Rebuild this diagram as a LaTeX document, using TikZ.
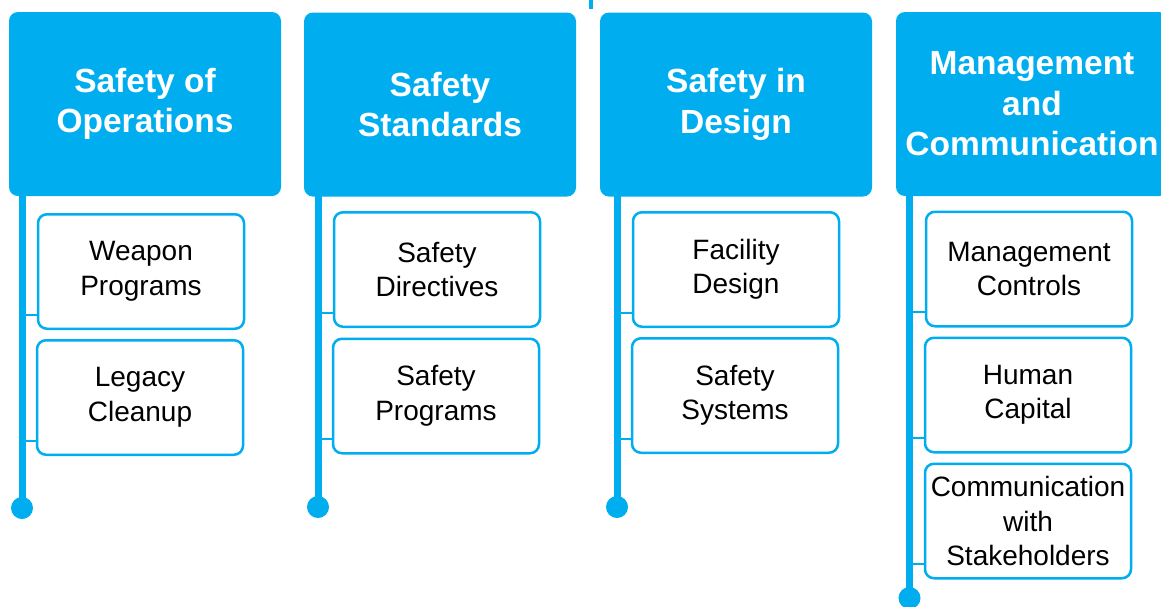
\documentclass[tikz,border=0pt]{standalone}
\usepackage{fontspec}
\setmainfont{Liberation Sans}
\usetikzlibrary{positioning}
\definecolor{hdblue}{RGB}{0,174,239}
\tikzset{
    header/.style={fill=hdblue, rounded corners=9pt, minimum width=272pt, minimum height=184pt,
        inner sep=0pt, text=white, align=center, font=\bfseries\fontsize{33.5}{40.5}\selectfont},
    item/.style={draw=hdblue, line width=2.5pt, fill=white, rounded corners=9pt,
        minimum width=206pt, minimum height=114.5pt, inner sep=0pt, align=center,
        font=\fontsize{28}{34.5}\selectfont},
    spine/.style={draw=hdblue, line width=7pt},
    stub/.style={draw=hdblue, line width=2pt},
    enddot/.style={circle, fill=hdblue, minimum size=22pt, inner sep=0pt},
}

\begin{document}
\begin{tikzpicture}[x=1pt, y=-1pt]
    \useasboundingbox (0,0) rectangle (1161,606);
    \clip (0,0) rectangle (1161,606);

    % link from above
    \coordinate (topIn) at (591,0);
    \coordinate (topOut) at (591,9);
    \draw[stub, line width=3.5pt] (topIn) -- (topOut);

    % spines
    \coordinate (opsTop) at (22,190);
    \coordinate (stdTop) at (318,190);
    \coordinate (desTop) at (617,190);
    \coordinate (mgtTop) at (909.5,190);
    \node[enddot] (opsEnd) at (22,508) {};
    \node[enddot] (stdEnd) at (318,507) {};
    \node[enddot] (desEnd) at (617,507) {};
    \node[enddot] (mgtEnd) at (909.5,598) {};
    \draw[spine] (opsTop) -- (opsEnd.center);
    \draw[spine] (stdTop) -- (stdEnd.center);
    \draw[spine] (desTop) -- (desEnd.center);
    \draw[spine] (mgtTop) -- (mgtEnd.center);

    % headers
    \node[header] (ops) at (145,104) {Safety of\\Operations};
    \node[header] (std) at (440,104.5) {Safety\\Standards};
    \node[header] (des) at (736,104.5) {Safety in\\Design};
    \node[header] (mgt) at (1032,104) {Management\\and\\Communication};

    % items
    \node[item] (weapon) at (141,271.5) {Weapon\\Programs};
    \node[item] (legacy) at (140,397.5) {Legacy\\Cleanup};
    \node[item] (directives) at (437,269.5) {Safety\\Directives};
    \node[item] (programs) at (436,396) {Safety\\Programs};
    \node[item] (facility) at (736,269.5) {Facility\\Design};
    \node[item] (systems) at (735,395.5) {Safety\\Systems};
    \node[item] (controls) at (1029,269) {Management\\Controls};
    \node[item] (capital) at (1028,395) {Human\\Capital};
    \node[item] (stake) at (1028,521) {Communication\\with\\Stakeholders};

    % stubs
    \foreach \b/\s in {weapon/ops, legacy/ops, directives/std, programs/std,
        facility/des, systems/des, controls/mgt, capital/mgt, stake/mgt}
        \draw[stub] ([yshift=15.5pt]\b.south west) -- ([yshift=15.5pt]\b.south west -| \s Top);
\end{tikzpicture}
\end{document}
